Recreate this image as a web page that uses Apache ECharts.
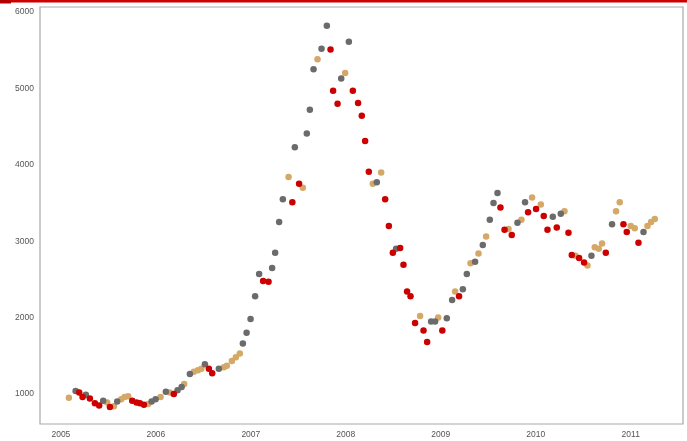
<!DOCTYPE html>
<html>
<head>
<meta charset="utf-8">
<script src="https://cdn.jsdelivr.net/npm/echarts@6/dist/echarts.min.js"></script>
<style>html,body{margin:0;padding:0;background:#fff;}#c{width:687px;height:441px;}</style>
</head>
<body>
<div id="c"></div>
<script>
const years = [
2005.084,2005.155,2005.193,2005.228,2005.263,2005.305,2005.358,2005.403,2005.445,2005.487,
2005.516,2005.558,2005.593,2005.635,2005.671,2005.708,2005.751,2005.797,2005.832,2005.874,
2005.919,2005.955,2005.997,2006.049,2006.105,2006.147,2006.189,2006.228,2006.271,2006.298,
2006.358,2006.400,2006.442,2006.479,2006.516,2006.558,2006.593,2006.663,2006.716,2006.747,
2006.800,2006.842,2006.884,2006.916,2006.955,2006.997,2007.045,2007.087,2007.129,2007.186,
2007.224,2007.256,2007.298,2007.337,2007.397,2007.437,2007.463,2007.508,2007.547,2007.589,
2007.621,2007.660,2007.702,2007.744,2007.800,2007.839,2007.866,2007.913,2007.951,2007.993,
2008.032,2008.074,2008.129,2008.168,2008.203,2008.242,2008.284,2008.326,2008.372,2008.414,
2008.453,2008.495,2008.529,2008.572,2008.607,2008.645,2008.681,2008.729,2008.782,2008.818,
2008.856,2008.898,2008.940,2008.972,2009.016,2009.063,2009.119,2009.151,2009.192,2009.232,
2009.274,2009.313,2009.361,2009.397,2009.442,2009.477,2009.516,2009.555,2009.597,2009.628,
2009.671,2009.713,2009.747,2009.807,2009.849,2009.887,2009.919,2009.961,2010.003,2010.053,
2010.084,2010.123,2010.179,2010.221,2010.263,2010.302,2010.344,2010.379,2010.418,2010.456,
2010.508,2010.544,2010.586,2010.621,2010.663,2010.698,2010.737,2010.803,2010.845,2010.884,
2010.923,2010.958,2011.000,2011.042,2011.081,2011.134,2011.176,2011.214,2011.253
];
const values = [
950,1040,1020,960,990,940,880,850,910,890,
830,840,900,930,960,970,910,890,880,860,
870,900,930,960,1030,1020,1000,1050,1090,1130,
1260,1290,1310,1330,1390,1330,1270,1330,1350,1370,
1430,1480,1530,1660,1800,1980,2280,2570,2480,2470,
2650,2850,3250,3550,3840,3510,4230,3750,3700,4410,
4720,5250,5380,5520,5820,5510,4970,4800,5130,5200,
5610,4970,4810,4640,4310,3910,3750,3770,3900,3550,
3200,2850,2900,2910,2690,2340,2280,1930,2020,1830,
1680,1950,1950,2000,1830,1990,2230,2340,2280,2370,
2570,2710,2730,2840,2950,3060,3280,3500,3630,3440,
3150,3160,3080,3240,3280,3510,3380,3570,3420,3480,
3330,3150,3320,3180,3360,3390,3110,2820,2810,2780,
2720,2680,2810,2920,2900,2970,2850,3220,3390,3510,
3220,3120,3200,3170,2980,3120,3200,3250,3290
];
const groups = [
'T','G','R','R','G','R','R','R','G','T',
'R','T','G','T','T','T','R','R','R','R',
'T','G','G','T','G','T','R','G','G','T',
'G','T','T','T','G','R','R','G','T','T',
'T','T','T','G','G','G','G','G','R','R',
'G','G','G','G','T','R','G','R','T','G',
'G','G','T','G','G','R','R','R','G','T',
'G','R','R','R','R','R','T','G','T','R',
'R','R','G','R','R','R','R','R','T','R',
'R','G','G','T','R','G','G','T','R','G',
'G','T','G','T','G','T','G','G','G','R',
'R','T','R','G','T','G','R','T','R','T',
'R','R','G','R','G','T','R','R','T','R',
'R','T','G','T','T','T','R','G','T','T',
'R','R','T','T','R','G','T','T','T'
];
const xTicks = [2005,2006,2007,2008,2009,2010,2011];
const yTicks = [1000,2000,3000,4000,5000,6000];
const groupColors = {T:'#d4a867', G:'#6b6b6b', R:'#cc0000'};
const groupOrder = ['T','G','R'];

const series = groupOrder.map(g => ({
  type:'scatter',
  symbolSize:6.5,
  itemStyle:{color:groupColors[g], opacity:1},
  emphasis:{disabled:true},
  data: years.map((y,i)=>[y,values[i],groups[i]]).filter(d=>d[2]===g).map(d=>[d[0],d[1]])
}));

const chart = echarts.init(document.getElementById('c'), null, {renderer:'canvas'});
chart.setOption({
  animation:false,
  backgroundColor:'#fff',
  grid:{left:40,right:4,top:7,bottom:17,show:true,borderColor:'#a8a8a8',borderWidth:1.2,backgroundColor:'transparent'},
  xAxis:{
    type:'value', min:2004.78, max:2011.55,
    axisLine:{show:false}, axisTick:{show:false}, splitLine:{show:false},
    axisLabel:{customValues:xTicks, formatter:v=>String(Math.round(v)), color:'#555', fontSize:8.5, fontFamily:'Liberation Sans', margin:6}
  },
  yAxis:{
    type:'value', min:607, max:6065,
    axisLine:{show:false}, axisTick:{show:false}, splitLine:{show:false},
    axisLabel:{customValues:yTicks, formatter:v=>String(Math.round(v)), color:'#555', fontSize:8.5, fontFamily:'Liberation Sans', margin:6}
  },
  graphic:[
    {type:'rect', shape:{x:0,y:0,width:687,height:2.5}, style:{fill:'#cc0000'}},
    {type:'rect', shape:{x:0,y:0,width:11,height:3.5}, style:{fill:'#b00000'}}
  ],
  series: series
});
</script>
</body>
</html>
